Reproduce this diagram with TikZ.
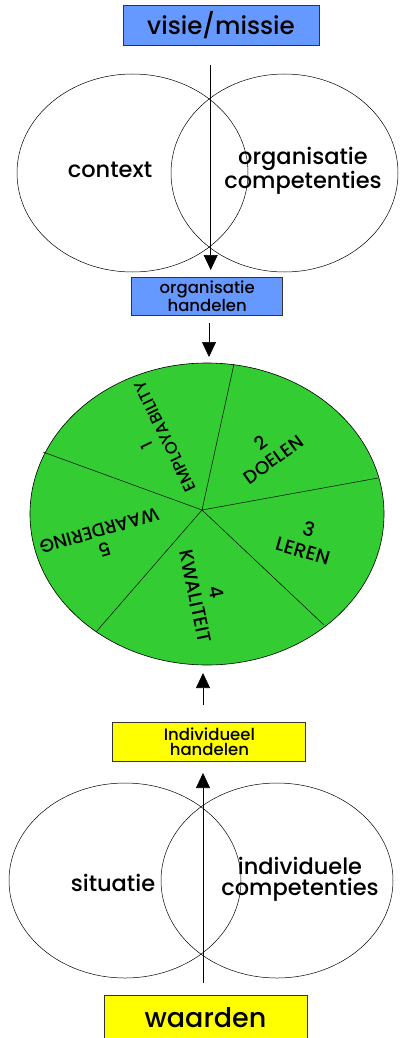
\documentclass[tikz,border=0pt]{standalone}
\usepackage{fontspec}
\setmainfont{Poppins}[BoldFont={Poppins Medium}]
\usetikzlibrary{arrows.meta,shapes.geometric}
\definecolor{boxblue}{RGB}{102,153,255}
\definecolor{piegreen}{RGB}{51,204,51}
\definecolor{boxyellow}{RGB}{255,255,0}
\begin{document}
\begin{tikzpicture}[x=1pt,y=-1pt,
  box/.style={draw=black!80, line width=0.9pt, inner sep=0pt, align=center},
  bluebox/.style={box, fill=boxblue},
  yellowbox/.style={box, fill=boxyellow},
  venn/.style={ellipse, draw, line width=0.5pt, inner sep=0pt},
  arr/.style={-{Triangle[length=15pt,width=14pt]}, line width=0.6pt},
  spoke/.style={line width=0.5pt},
  lbl/.style={inner sep=0pt, align=center},
  big/.style={font=\fontsize{#1}{#1}\selectfont\bfseries},
  mid/.style={font=\fontsize{22.5}{21}\selectfont\bfseries},
  small/.style={font=\fontsize{16.5}{15}\selectfont\bfseries},
  pie/.style={lbl, font=\fontsize{#1}{1.15*#1}\selectfont\bfseries},
]
\useasboundingbox (0,0) rectangle (399,1038);
% top
\node[bluebox, big=24.5, minimum width=196pt, minimum height=40pt] (vm) at (221,25) {visie/missie};
\node[venn, minimum width=231pt, minimum height=198pt] (e1) at (132.5,173) {};
\node[venn, minimum width=227pt, minimum height=198pt] (e2) at (284.5,173) {};
\node[lbl, mid] (ctx) at (110,170) {context};
\node[lbl, mid] (oc) at (303,171) {organisatie\\competenties};
\node[bluebox, small, minimum width=151pt, minimum height=38pt] (oh) at (207.2,296) {organisatie\\handelen};
\coordinate (a1s) at (210.7,65);
\coordinate (a1e) at (210.7,270);
\draw[arr] (a1s) -- (a1e);
\coordinate (a2s) at (209,323);
\coordinate (a2e) at (209,357);
\draw[arr] (a2s) -- (a2e);
% pie
\draw[fill=piegreen, line width=0.6pt] (207,514) ellipse [x radius=177, y radius=151];
\coordinate (pc) at (202,510);
\coordinate (p1) at (234,364);
\coordinate (p2) at (378,478);
\coordinate (p3) at (324,625);
\coordinate (p4) at (96,632);
\coordinate (p5) at (43,452);
\foreach \p in {p1,p2,p3,p4,p5} \draw[spoke] (pc) -- (\p);
\node[lbl, font=\fontsize{16.5}{20}\selectfont\bfseries, rotate=116] (l1) at (156,441) {1\\EMPLOYABILITY};
\node[lbl, font=\fontsize{18.5}{21}\selectfont\bfseries, rotate=36] (l2) at (267,451) {2\\DOELEN};
\node[lbl, font=\fontsize{19.5}{22}\selectfont\bfseries, rotate=-16] (l3) at (306,540) {3\\LEREN};
\node[lbl, font=\fontsize{19}{21.5}\selectfont\bfseries, rotate=-78] (l4) at (206,594) {4\\KWALITEIT};
\node[lbl, font=\fontsize{18.5}{19}\selectfont\bfseries, rotate=196] (l5) at (102,540) {5\\WAARDERING};
% bottom
\coordinate (a3s) at (203,705);
\coordinate (a3e) at (203,673);
\draw[arr] (a3s) -- (a3e);
\node[yellowbox, small, minimum width=193pt, minimum height=39pt] (ih) at (209.4,741.5) {Individueel\\handelen};
\node[venn, minimum width=232pt, minimum height=195pt] (e3) at (125,880.5) {};
\node[venn, minimum width=232pt, minimum height=195pt] (e4) at (277,880.5) {};
\node[lbl, mid] (sit) at (113,883) {situatie};
\node[lbl, mid] (ic) at (300,879) {individuele\\competenties};
\coordinate (a4s) at (203,983);
\coordinate (a4e) at (203,773);
\draw[arr] (a4s) -- (a4e);
\node[yellowbox, big=27, minimum width=203pt, minimum height=45pt] (wa) at (205.5,1017.5) {waarden};
\end{tikzpicture}
\end{document}
